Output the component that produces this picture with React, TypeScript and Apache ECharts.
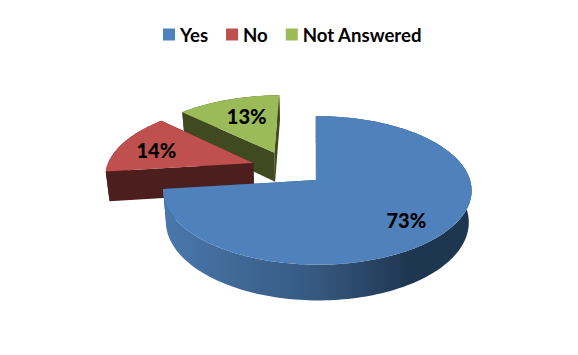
import React, { useEffect, useRef } from "react";
import * as echarts from "echarts";

const categories = ["Yes", "No", "Not Answered"];
const percentValues = [73, 14, 13];
const topColors = ["#4f81bd", "#c0504d", "#9bbb59"];
const sideColors = ["#2c4a6e", "#4c1f1e", "#3f4a21"];

// projection of the tilted pie plane onto the screen
const P = { x0: 316, c: -28.2, y0: 168.2, rx: 149, ry: 69.4, k: 0.137, m: 0.01, depth: 30, shrink: 0.982, explode: 0.25 };
const FONT = 'Lato, "Liberation Sans", Arial, sans-serif';
const labelNudge = [[7, 5], [-7, 1], [5, 1]];

function project(u: number, v: number, lower: boolean): number[] {
  const s = 1 / (1 - P.k * v - P.m * u);
  const x = P.x0 + (P.rx * u + P.c) * s;
  const y = P.y0 + P.ry * v * s;
  if (!lower) return [x, y];
  return [P.x0 + (x - P.x0) * P.shrink, y + P.depth * s];
}

function sliceAngles(index: number): number[] {
  const total = percentValues.reduce((a, b) => a + b, 0);
  const before = percentValues.slice(0, index).reduce((a, b) => a + b, 0);
  const a0 = (before / total) * Math.PI * 2;
  const a1 = ((before + percentValues[index]) / total) * Math.PI * 2;
  return [a0, a1];
}

function renderSlice(index: number) {
  const [a0, a1] = sliceAngles(index);
  const mid = (a0 + a1) / 2;
  const cu = P.explode * Math.sin(mid);
  const cv = -P.explode * Math.cos(mid);
  const steps = Math.max(8, Math.round((a1 - a0) * 40));
  const arc: number[][] = [];
  for (let i = 0; i <= steps; i++) {
    const a = a0 + ((a1 - a0) * i) / steps;
    arc.push([cu + Math.sin(a), cv - Math.cos(a)]);
  }
  const topArc = arc.map((p) => project(p[0], p[1], false));
  const lowArc = arc.map((p) => project(p[0], p[1], true));
  const apexTop = project(cu, cv, false);
  const apexLow = project(cu, cv, true);
  const rimFill =
    index === 0
      ? new echarts.graphic.LinearGradient(0, 0, 1, 0, [
          { offset: 0, color: "#4a78ad" },
          { offset: 0.5, color: "#35587f" },
          { offset: 0.8, color: "#1f3650" },
          { offset: 1, color: "#1f3650" },
        ])
      : sideColors[index];
  const f = 0.68;
  const label = project(cu + f * Math.sin(mid), cv - f * Math.cos(mid), false);
  return {
    type: "group",
    children: [
      {
        type: "polygon",
        shape: { points: [apexTop, topArc[0], lowArc[0], apexLow] },
        style: { fill: sideColors[index] },
      },
      {
        type: "polygon",
        shape: { points: [apexTop, topArc[steps], lowArc[steps], apexLow] },
        style: { fill: sideColors[index] },
      },
      {
        type: "polygon",
        shape: { points: topArc.concat(lowArc.slice().reverse()) },
        style: { fill: rimFill },
      },
      {
        type: "polygon",
        shape: { points: [apexTop, ...topArc] },
        style: { fill: topColors[index] },
      },
      {
        type: "text",
        x: label[0] + labelNudge[index][0],
        y: label[1] + labelNudge[index][1],
        style: {
          text: percentValues[index] + "%",
          fill: "#000",
          font: "900 20px " + FONT,
          align: "center",
          verticalAlign: "middle",
        },
      },
    ],
  };
}

export default function App() {
  const ref = useRef<HTMLDivElement>(null);
  useEffect(() => {
    document.body.style.margin = "0";
    const chart = echarts.init(ref.current!, undefined, { renderer: "svg" });
    chart.setOption({
      animation: false,
      backgroundColor: "#ffffff",
      legend: {
        top: 20,
        left: 158,
        icon: "rect",
        itemWidth: 12,
        itemHeight: 12,
        itemGap: 18,
        data: categories,
        textStyle: { color: "#000", fontSize: 18.6, fontWeight: "bold", fontFamily: FONT, padding: [0, 0, 0, 0] },
      },
      series: categories.map((name, i) => ({
        type: "custom",
        name,
        coordinateSystem: "none",
        z: i === 0 ? 5 : i === 1 ? 4 : 3,
        itemStyle: { color: topColors[i] },
        data: [[percentValues[i]]],
        renderItem: () => renderSlice(i),
      })),
    });
    return () => chart.dispose();
  }, []);
  return <div ref={ref} style={{ width: 578, height: 355 }} />;
}
